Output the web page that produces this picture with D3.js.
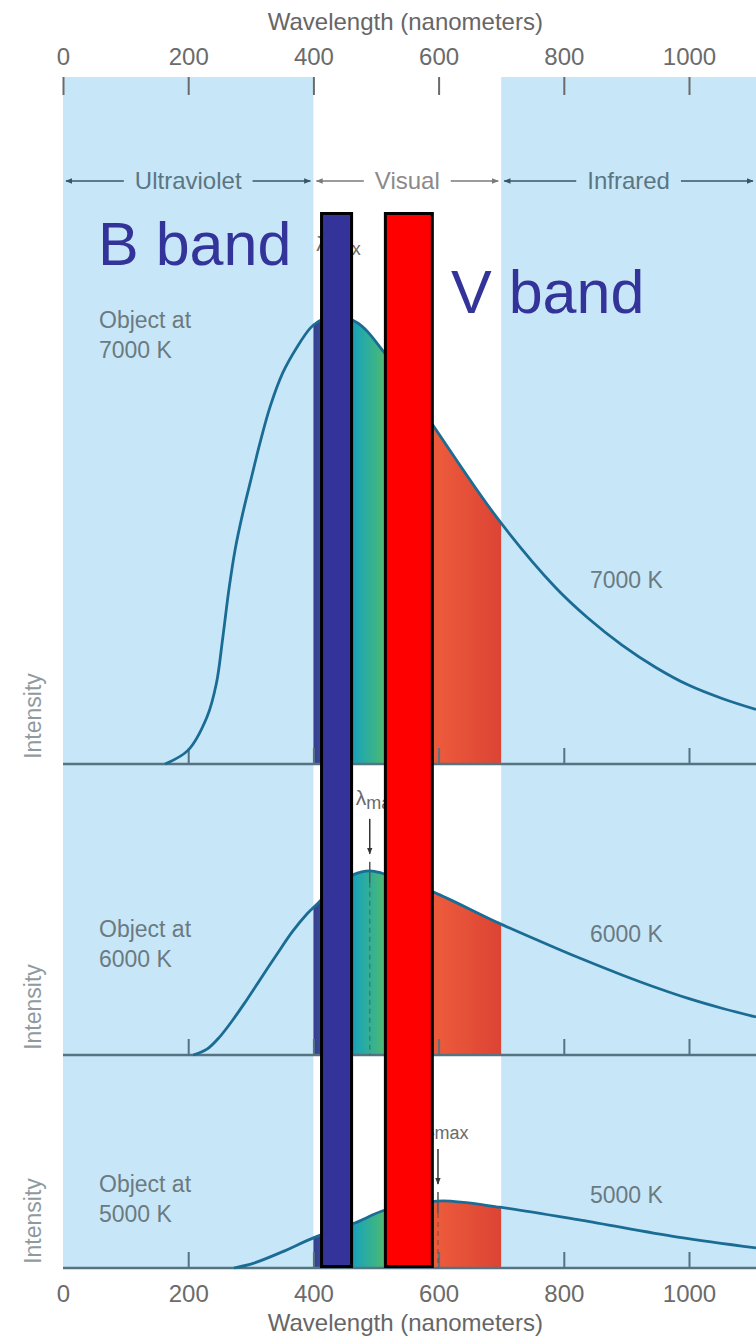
<!DOCTYPE html>
<html><head><meta charset="utf-8">
<script src="https://cdn.jsdelivr.net/npm/d3@7"></script>
<style>
body{margin:0;background:#fff}
svg{display:block}
text{font-family:"Liberation Sans",Arial,Helvetica,sans-serif}
</style>
</head><body>
<svg id="c" width="756" height="1341"></svg>
<script>
// ---------------- DATA ----------------
const axisTicks = [0, 200, 400, 600, 800, 1000];
const panelTicks = [200, 400, 600, 800, 1000];
const axisTitle = "Wavelength (nanometers)";
const regionNames = ["Ultraviolet", "Visual", "Infrared"];
const regionFrom = [0, 400, 700];
const regionTo = [400, 700, 1110];
const tempLabels = ["7000 K", "6000 K", "5000 K"];
const objectLabels = ["Object at", "Object at", "Object at"];
const yLabel = "Intensity";

// curves (wavelength nm, relative intensity; 7000 K peak = 100)
const wl7000 = [163, 200, 230, 245, 255, 265, 275, 287, 300, 315, 331, 351, 374, 395, 406, 427, 468, 514, 591, 696, 786, 839, 893, 947, 1000, 1054, 1107];
const in7000 = [0, 3.1, 10.5, 18.0, 28.0, 39.0, 48.0, 56.0, 63.5, 72.0, 80.0, 87.5, 93.3, 97.5, 98.8, 100, 98.9, 91.9, 75.8, 54.6, 39.6, 32.6, 26.6, 21.6, 17.6, 14.6, 12.2];
const wl6000 = [208, 230, 250, 270, 290, 315, 342, 367, 390, 406, 435, 463, 490, 511, 591, 696, 786, 839, 893, 947, 1000, 1054, 1107];
const in6000 = [0, 1.3, 4.0, 7.6, 11.6, 16.9, 22.6, 27.7, 31.6, 33.8, 37.8, 40.3, 41.2, 40.6, 36.5, 29.5, 24.0, 20.9, 17.9, 15.1, 12.6, 10.4, 8.5];
const wl5000 = [273, 305, 350, 401, 465, 511, 560, 607, 698, 827, 982, 1107];
const in5000 = [0, 1.1, 3.6, 6.8, 10.0, 12.8, 14.3, 15.0, 13.6, 10.7, 6.9, 4.5];

const lambdaMax = [427, 490, 599];
const lambdaMaxIntensity = [100, 41.2, 15.0];

const bandNames = ["B band", "V band"];
const bandFrom = [413, 515];
const bandTo = [461, 590];
const bandColors = ["#333399", "#ff0000"];

// spectrum stops for the visual fill
const specNm = [400, 425, 455, 470, 500, 515, 545, 575, 590, 700];
const specCol = ["#3a3d8f", "#2f5aa0", "#2090b8", "#1ea6b2", "#3cb488", "#55b86c", "#9cc24c", "#e8a43a", "#ee5c3c", "#dc4434"];

// ---------------- LAYOUT ----------------
const svg = d3.select("#c");
const W = 756;
const x = d3.scaleLinear().domain([0, 1000]).range([63, 689]);
const pxPerUnit = 4.47;
const panels = [
  {top: 77, base: 764, wl: wl7000, v: in7000, objY: 328, tempY: 588, labY: 716},
  {top: 764, base: 1055, wl: wl6000, v: in6000, objY: 937, tempY: 942, labY: 1007},
  {top: 1055, base: 1268, wl: wl5000, v: in5000, objY: 1192, tempY: 1203, labY: 1221}
];
panels.forEach(p => {
  p.y = d3.scaleLinear().domain([0, (p.base - p.top) / pxPerUnit]).range([p.base, p.top]);
});

const defs = svg.append("defs");
const grad = defs.append("linearGradient").attr("id", "spec")
  .attr("gradientUnits", "userSpaceOnUse")
  .attr("x1", x(400)).attr("x2", x(700)).attr("y1", 0).attr("y2", 0);
specNm.forEach((n, i) => grad.append("stop").attr("offset", (n - 400) / 300).attr("stop-color", specCol[i]));
defs.append("clipPath").attr("id", "vis").append("rect")
  .attr("x", x(400)).attr("width", x(700) - x(400)).attr("y", 0).attr("height", 1341);
defs.append("clipPath").attr("id", "plot").append("rect")
  .attr("x", x(0)).attr("width", W - x(0)).attr("y", 0).attr("height", 1341);
function marker(id, color) {
  defs.append("marker").attr("id", id).attr("viewBox", "0 0 10 10").attr("refX", 9).attr("refY", 5)
    .attr("markerWidth", 7).attr("markerHeight", 7).attr("markerUnits", "userSpaceOnUse").attr("orient", "auto")
    .append("path").attr("d", "M0,1 L10,5 L0,9 Z").attr("fill", color);
}
marker("arrDark", "#3b5663");
marker("arrGray", "#7a7a7a");
marker("arrBlack", "#333");

// background regions (UV and IR)
[0, 2].forEach(i => {
  svg.append("rect").attr("x", x(regionFrom[i])).attr("y", panels[0].top)
    .attr("width", Math.min(x(regionTo[i]), W) - x(regionFrom[i]))
    .attr("height", panels[2].base - panels[0].top)
    .attr("fill", "#c7e7f8");
});

// top axis
const topAxis = svg.append("g").attr("transform", `translate(0,${panels[0].top})`)
  .call(d3.axisBottom(x).tickValues(axisTicks).tickSize(18).tickFormat(d3.format("d")));
topAxis.select(".domain").remove();
topAxis.selectAll(".tick line").attr("stroke", "#6a6a6a").attr("stroke-width", 2);
topAxis.selectAll(".tick text").attr("y", -12).attr("dy", 0).attr("fill", "#6b6b6b")
  .attr("font-size", 24).attr("font-family", "Liberation Sans, Arial, sans-serif");

svg.append("text").attr("x", x(550) - 2).attr("y", 30).attr("text-anchor", "middle")
  .attr("font-size", 24).attr("fill", "#666").text(axisTitle);

// region labels with arrows
regionNames.forEach((name, i) => {
  const x0 = x(regionFrom[i]), x1 = Math.min(x(regionTo[i]), W);
  const cx = (x0 + x1) / 2;
  const isVis = i === 1;
  const t = svg.append("text").attr("x", cx).attr("y", 189).attr("text-anchor", "middle")
    .attr("font-size", 24).attr("fill", isVis ? "#8a8a8a" : "#5b7682").text(name);
  const tw = t.node().getComputedTextLength();
  const col = isVis ? "#7a7a7a" : "#3b5663";
  const mk = isVis ? "url(#arrGray)" : "url(#arrDark)";
  svg.append("line").attr("x1", cx - tw / 2 - 11).attr("x2", x0 + 3).attr("y1", 181).attr("y2", 181)
    .attr("stroke", col).attr("stroke-width", 1.6).attr("marker-end", mk);
  svg.append("line").attr("x1", cx + tw / 2 + 11).attr("x2", x1 - 3).attr("y1", 181).attr("y2", 181)
    .attr("stroke", col).attr("stroke-width", 1.6).attr("marker-end", mk);
});

// panels
panels.forEach((p, i) => {
  const data = p.wl.map((n, k) => ({n, v: p.v[k]}));
  const g = svg.append("g").attr("clip-path", "url(#plot)");
  const crv = d3.curveCatmullRom.alpha(0.5);
  // visual-band fill
  const area = d3.area().x(d => x(d.n)).y0(p.y(0)).y1(d => p.y(d.v)).curve(crv);
  g.append("path").datum(data).attr("d", area).attr("fill", "url(#spec)").attr("clip-path", "url(#vis)");
  // baseline + ticks
  g.append("line").attr("x1", x(0)).attr("x2", W).attr("y1", p.base).attr("y2", p.base)
    .attr("stroke", "#557380").attr("stroke-width", 2.5);
  const ax = g.append("g").attr("transform", `translate(0,${p.base})`)
    .call(d3.axisTop(x).tickValues(panelTicks).tickSize(16).tickFormat(""));
  ax.select(".domain").remove();
  ax.selectAll(".tick line").attr("stroke", "#557380").attr("stroke-width", 2);
  // lambda max marker
  const lx = x(lambdaMax[i]), ly = p.y(lambdaMaxIntensity[i]);
  g.append("line").attr("x1", lx).attr("x2", lx).attr("y1", ly + 12).attr("y2", p.base)
    .attr("stroke", "#444").attr("stroke-opacity", 0.45).attr("stroke-width", 1.5).attr("stroke-dasharray", "5,4");
  g.append("line").attr("x1", lx).attr("x2", lx).attr("y1", ly - 9).attr("y2", ly + 12)
    .attr("stroke", "#555").attr("stroke-width", 1.5);
  g.append("line").attr("x1", lx).attr("x2", lx).attr("y1", ly - 52).attr("y2", ly - 17)
    .attr("stroke", "#333").attr("stroke-width", 1.5).attr("marker-end", "url(#arrBlack)");
  const lt = g.append("text").attr("x", lx - 14).attr("y", ly - 66).attr("fill", "#6a6a6a");
  lt.append("tspan").attr("font-size", 21).text("λ");
  lt.append("tspan").attr("font-size", 18).attr("dy", 4).text("max");
  // curve
  const line = d3.line().x(d => x(d.n)).y(d => p.y(d.v)).curve(crv);
  g.append("path").datum(data).attr("d", line).attr("fill", "none")
    .attr("stroke", "#1b6c95").attr("stroke-width", 2.8);
  // labels
  const ot = svg.append("text").attr("x", 99).attr("y", p.objY).attr("font-size", 23).attr("fill", "#6b7a81");
  ot.append("tspan").attr("x", 99).text(objectLabels[i]);
  ot.append("tspan").attr("x", 99).attr("dy", 30).text(tempLabels[i]);
  svg.append("text").attr("x", 590).attr("y", p.tempY).attr("font-size", 23).attr("fill", "#6b7a81").text(tempLabels[i]);
  svg.append("text").attr("transform", `translate(41,${p.labY}) rotate(-90)`).attr("text-anchor", "middle")
    .attr("font-size", 23).attr("fill", "#8f9a9f").text(yLabel);
});

// bottom axis labels
const botAxis = svg.append("g").attr("transform", `translate(0,${panels[2].base})`)
  .call(d3.axisBottom(x).tickValues(axisTicks).tickSize(0).tickFormat(d3.format("d")));
botAxis.select(".domain").remove();
botAxis.selectAll(".tick text").attr("y", 34).attr("dy", 0).attr("fill", "#6b6b6b")
  .attr("font-size", 24).attr("font-family", "Liberation Sans, Arial, sans-serif");
svg.append("text").attr("x", x(550) - 2).attr("y", 1331).attr("text-anchor", "middle")
  .attr("font-size", 24).attr("fill", "#666").text(axisTitle);

// B and V band bars
const barTop = 213.5, barBottom = 1266.5;
bandNames.forEach((b, i) => {
  svg.append("rect").attr("x", x(bandFrom[i])).attr("y", barTop)
    .attr("width", x(bandTo[i]) - x(bandFrom[i])).attr("height", barBottom - barTop)
    .attr("fill", bandColors[i]).attr("stroke", "#000").attr("stroke-width", 3);
});
svg.append("text").attr("x", 98).attr("y", 265).attr("font-size", 61).attr("fill", "#333399").text(bandNames[0]);
svg.append("text").attr("x", 451).attr("y", 313).attr("font-size", 61).attr("fill", "#333399").text(bandNames[1]);
</script>
</body></html>
